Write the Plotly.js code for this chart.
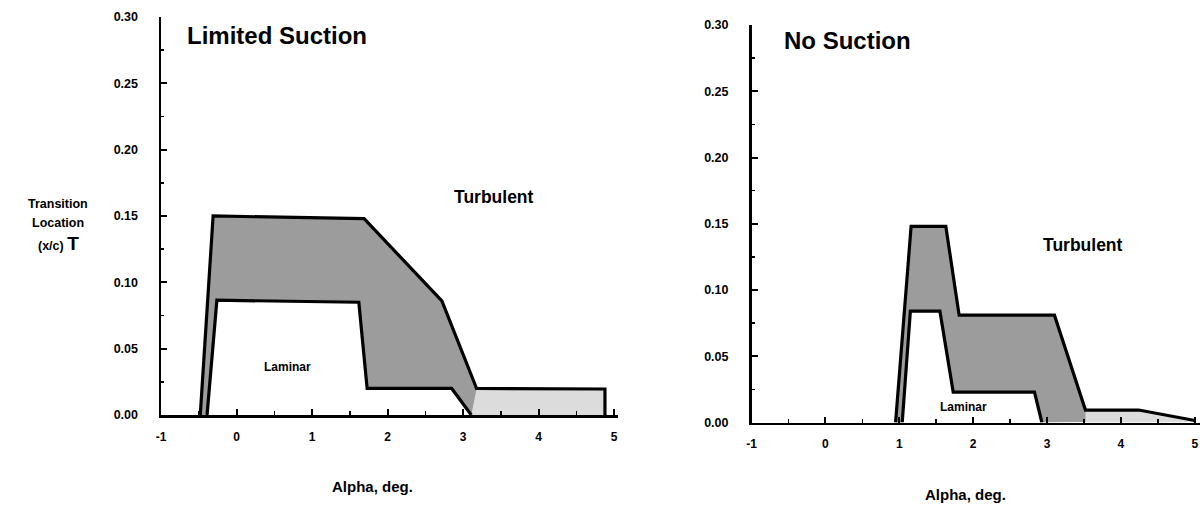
<!DOCTYPE html>
<html><head><meta charset="utf-8">
<script src="https://cdn.plot.ly/plotly-3.0.1.min.js"></script>
<style>html,body{margin:0;padding:0;background:#fff}#chart{width:1200px;height:505px}</style>
</head><body><div id="chart"></div>
<script>
// ---- Limited Suction panel (x = alpha, deg; y = transition location x/c) ----
const lsUpperX = [-0.48, -0.31, 1.69, 2.72, 3.18, 4.88, 4.88];
const lsUpperY = [0, 0.150, 0.148, 0.086, 0.020, 0.0196, 0];
const lsLowerX = [-0.39, -0.26, 1.62, 1.73, 2.85, 3.11];
const lsLowerY = [0, 0.0865, 0.085, 0.020, 0.020, 0];
const lsTailX = [3.11, 3.18, 4.88, 4.88];
const lsTailY = [0, 0.020, 0.0196, 0];

// ---- No Suction panel ----
const nsUpperX = [0.95, 1.16, 1.63, 1.81, 3.10, 3.52, 4.24, 5.0];
const nsUpperY = [0, 0.148, 0.148, 0.081, 0.081, 0.0094, 0.0094, 0.0015];
const nsLowerX = [1.04, 1.15, 1.55, 1.73, 2.83, 2.93];
const nsLowerY = [0, 0.084, 0.084, 0.023, 0.023, 0];
const nsTailX = [3.52, 3.52, 4.24, 5.0, 5.0];
const nsTailY = [0, 0.0094, 0.0094, 0.0015, 0];

// ---- ticks and labels ----
const xTickVals = [-1, 0, 1, 2, 3, 4, 5];
const xTickText = ['-1', '0', '1', '2', '3', '4', '5'];
const yTickVals = [0, 0.05, 0.10, 0.15, 0.20, 0.25, 0.30];
const yTickText = ['0.00', '0.05', '0.10', '0.15', '0.20', '0.25', '0.30'];
const panelTitles = ['Limited Suction', 'No Suction'];
const regionLabels = ['Turbulent', 'Laminar'];
const xTitle = 'Alpha, deg.';
const yTitleLines = ['Transition', 'Location', '(x/c) <span style="font-size:19px">T</span>'];

const FONT = 'Liberation Sans, Arial, Helvetica, sans-serif';
const DARK = '#9c9c9c';
const LIGHT = '#dcdcdc';

function band(ux, uy, lx, ly, xa, ya) {
  return {
    x: ux.concat(lx.slice().reverse()),
    y: uy.concat(ly.slice().reverse()),
    xaxis: xa, yaxis: ya, mode: 'lines', fill: 'toself',
    fillcolor: DARK, line: {width: 0}, hoverinfo: 'skip', showlegend: false
  };
}
function tail(tx, ty, xa, ya) {
  return {x: tx, y: ty, xaxis: xa, yaxis: ya, mode: 'lines', fill: 'toself',
    fillcolor: LIGHT, line: {width: 0}, hoverinfo: 'skip', showlegend: false};
}
function edge(x, y, xa, ya) {
  return {x: x, y: y, xaxis: xa, yaxis: ya, mode: 'lines',
    line: {color: '#000', width: 3.2}, hoverinfo: 'skip', showlegend: false};
}

const data = [
  band(lsUpperX, lsUpperY, lsLowerX, lsLowerY, 'x', 'y'),
  tail(lsTailX, lsTailY, 'x', 'y'),
  edge(lsUpperX, lsUpperY, 'x', 'y'),
  edge(lsLowerX, lsLowerY, 'x', 'y'),
  band(nsUpperX, nsUpperY, nsLowerX, nsLowerY, 'x2', 'y2'),
  tail(nsTailX, nsTailY, 'x2', 'y2'),
  edge(nsUpperX, nsUpperY, 'x2', 'y2'),
  edge(nsLowerX, nsLowerY, 'x2', 'y2')
];

function xAxis(domain, range, anchor) {
  return {
    domain: domain, range: range, anchor: anchor, fixedrange: true,
    showline: true, linecolor: '#000', linewidth: 2.5, mirror: false,
    showgrid: false, zeroline: false,
    tickmode: 'array', tickvals: xTickVals, ticktext: xTickText,
    ticks: 'inside', ticklen: 6, tickwidth: 2, tickcolor: '#000',
    minor: {tickmode: 'linear', tick0: 0, dtick: 0.5, ticks: 'inside', ticklen: 4, tickwidth: 1.5, tickcolor: '#000'},
    ticklabelstandoff: 9,
    tickfont: {family: FONT, size: 12, weight: 'bold', color: '#000'}
  };
}
function yAxis(domain, anchor) {
  return {
    domain: domain, range: [0, 0.30], anchor: anchor, fixedrange: true,
    showline: true, linecolor: '#000', linewidth: 2.5,
    showgrid: false, zeroline: false,
    tickmode: 'array', tickvals: yTickVals, ticktext: yTickText,
    ticks: 'inside', ticklen: 6, tickwidth: 2, tickcolor: '#000',
    minor: {tickmode: 'linear', tick0: 0, dtick: 0.025, ticks: 'inside', ticklen: 3, tickwidth: 1.5, tickcolor: '#000'},
    ticklabelstandoff: 18,
    tickfont: {family: FONT, size: 12.5, weight: 'bold', color: '#000'}
  };
}

function txt(text, x, y, xref, yref, size, xanchor) {
  return {text: text, x: x, y: y, xref: xref, yref: yref, showarrow: false,
    xanchor: xanchor || 'center', yanchor: 'middle',
    font: {family: FONT, size: size, weight: 'bold', color: '#000'}};
}

const annotations = [
  txt(panelTitles[0], -0.68, 0.286, 'x', 'y', 24, 'left'),
  txt(regionLabels[0], 3.41, 0.164, 'x', 'y', 17.5),
  txt(regionLabels[1], 0.67, 0.036, 'x', 'y', 12),
  txt(panelTitles[1], -0.59, 0.288, 'x2', 'y2', 24, 'left'),
  txt(regionLabels[0], 3.48, 0.134, 'x2', 'y2', 17.5),
  txt(regionLabels[1], 1.87, 0.012, 'x2', 'y2', 12),
  txt(xTitle, 372 / 1200, (505 - 486) / 505, 'paper', 'paper', 15),
  txt(xTitle, 965 / 1200, (505 - 494) / 505, 'paper', 'paper', 15),
  txt(yTitleLines[0], 58 / 1200, (505 - 204) / 505, 'paper', 'paper', 12.5),
  txt(yTitleLines[1], 58 / 1200, (505 - 223) / 505, 'paper', 'paper', 12.5),
  txt(yTitleLines[2], 58 / 1200, (505 - 243) / 505, 'paper', 'paper', 12.5)
];

const layout = {
  width: 1200, height: 505, autosize: false,
  margin: {l: 0, r: 0, t: 0, b: 0, pad: 0},
  paper_bgcolor: '#fff', plot_bgcolor: '#fff',
  showlegend: false,
  xaxis: xAxis([161 / 1200, 617.8 / 1200], [-1, 5.05], 'y'),
  yaxis: yAxis([(505 - 415) / 505, (505 - 17) / 505], 'x'),
  xaxis2: xAxis([751.5 / 1200, 1.0], [-1, 5.07], 'y2'),
  yaxis2: yAxis([(505 - 422.5) / 505, (505 - 25) / 505], 'x2'),
  annotations: annotations
};

Plotly.newPlot('chart', data, layout, {staticPlot: true, displayModeBar: false});
</script>
</body></html>
